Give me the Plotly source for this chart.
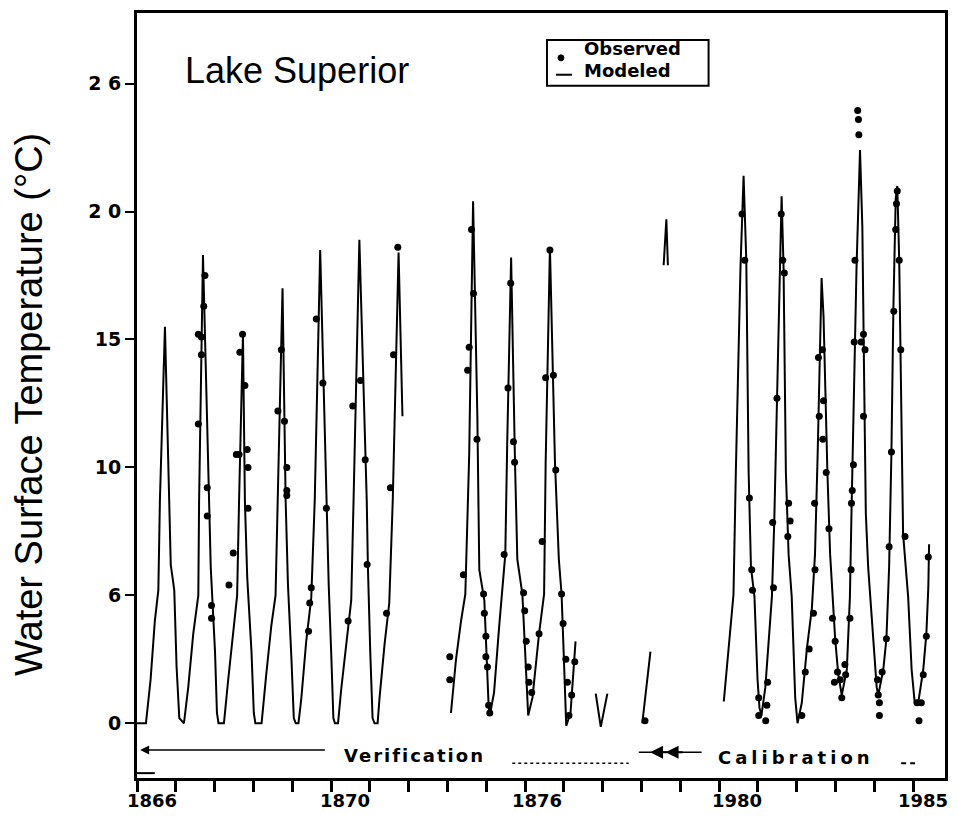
import plotly.graph_objects as go

# ---------------- data ----------------
# Modeled water surface temperature (decimal year, deg C); None = gap in the record
model_year = [
    1966.00, 1966.23, 1966.35, 1966.46, 1966.55, 1966.59, 1966.72, 1966.83, 1966.87, 1966.96, 1967.02, 1967.09, 1967.21,
    1967.32, 1967.45, 1967.58, 1967.60, 1967.70, 1967.86, 1967.90, 1968.01, 1968.06, 1968.10, 1968.24,
    1968.35, 1968.48, 1968.58, 1968.63, 1968.73, 1968.78, 1968.84, 1968.95, 1969.01, 1969.05, 1969.21,
    1969.33, 1969.46, 1969.57, 1969.62, 1969.75, 1969.83, 1969.89, 1969.98, 1970.04, 1970.09, 1970.16,
    1970.23, 1970.36, 1970.49, 1970.58, 1970.72, 1970.88, 1970.94, 1971.01, 1971.06, 1971.10, 1971.18,
    1971.26, 1971.39, 1971.52, 1971.58, 1971.73, 1971.92, 1971.95, 1972.01, 1972.07, 1972.12, 1972.20,
    1972.25, 1972.38, 1972.50, 1972.59, 1972.74, 1972.84, None,
    1974.09, 1974.22, 1974.35, 1974.46, 1974.56, 1974.66, 1974.77, 1974.82, 1974.95, 1975.01, 1975.06, 1975.09,
    1975.20, 1975.33, 1975.49, 1975.54, 1975.64, 1975.74, 1975.80, 1975.93, 1976.02, 1976.08,
    1976.19, 1976.36, 1976.49, 1976.53, 1976.64, 1976.77, 1976.87, 1976.94, 1977.00, 1977.06,
    1977.17, 1977.30, None,
    1977.82, 1977.95, 1978.12, None,
    1979.02, 1979.23, None,
    1979.57, 1979.64, 1979.68, None,
    1981.12, 1981.24, 1981.37, 1981.43, 1981.48, 1981.55, 1981.63, 1981.70, 1981.76, 1981.82, 1981.91, 1981.99, 1982.04, 1982.09,
    1982.19, 1982.27, 1982.36, 1982.42, 1982.49, 1982.56, 1982.61, 1982.66, 1982.72, 1982.79, 1982.87, 1982.96, 1983.02,
    1983.13, 1983.26, 1983.39, 1983.47, 1983.54, 1983.60, 1983.64, 1983.69, 1983.73, 1983.79, 1983.86, 1983.92, 1983.99, 1984.07, 1984.16,
    1984.29, 1984.37, 1984.41, 1984.48, 1984.54, 1984.63, 1984.69, 1984.74, 1984.78, 1984.84, 1984.97, 1985.06, 1985.10,
    1985.23, 1985.31, 1985.38, 1985.44, 1985.49, 1985.55, 1985.59, 1985.64, 1985.68, 1985.74, 1985.87, 1985.96, 1986.04,
    1986.13, 1986.26, 1986.34, 1986.39, 1986.41,
]
model_temp = [
    0, 0, 1.7, 4.0, 5.2, 8.7, 15.5, 8.7, 6.2, 5.2, 2.2, 0.2, 0,
    1.4, 3.5, 5.0, 8.7, 18.3, 8.7, 6.1, 2.8, 0.4, 0, 0,
    1.7, 3.5, 5.0, 8.7, 15.2, 8.7, 5.7, 2.8, 0.4, 0, 0,
    1.9, 3.8, 5.0, 8.7, 17.0, 8.7, 5.4, 2.5, 0.2, 0, 0,
    0.9, 3.2, 4.9, 8.7, 18.5, 8.7, 5.4, 2.5, 0.2, 0, 0,
    1.3, 3.1, 4.8, 8.7, 18.9, 8.7, 6.1, 2.8, 0.2, 0, 0,
    1.0, 3.1, 4.7, 8.7, 18.4, 12.0, None,
    0.4, 2.5, 4.0, 5.05, 10.5, 20.4, 12.0, 6.0, 4.8, 2.5, 0.7, 0.3,
    1.2, 3.75, 6.6, 11.0, 18.2, 10.2, 6.4, 5.05, 2.5, 0.3,
    1.0, 3.5, 5.05, 10.2, 18.6, 10.2, 6.4, 5.05, 2.5, -0.1,
    0.4, 3.2, None,
    1.16, -0.14, 1.16, None,
    0.0, 2.8, None,
    17.9, 19.7, 17.9, None,
    0.85, 2.86, 5.03, 9.78, 13.0, 17.8, 21.4, 18.1, 9.8, 6.1, 4.95, 1.7, 0.6, 0.3,
    1.4, 2.9, 4.95, 7.85, 13.0, 17.8, 20.6, 17.8, 9.8, 6.6, 4.95, 1.0, 0.0,
    0.8, 2.9, 4.5, 6.6, 10.6, 14.6, 17.4, 15.9, 13.0, 9.8, 6.6, 4.95, 3.3, 1.9, 1.1,
    2.1, 4.95, 8.2, 13.0, 17.8, 22.4, 19.4, 13.0, 8.2, 6.1, 3.3, 1.4, 1.1,
    2.1, 3.3, 6.1, 10.6, 16.2, 20.5, 21.0, 18.1, 13.0, 7.4, 4.95, 2.1, 0.8,
    0.8, 2.1, 3.5, 5.3, 7.0,
]

# Observed water surface temperature (decimal year, deg C)
obs_year = [
    1967.58, 1967.66, 1967.66, 1967.58, 1967.75, 1967.72, 1967.81, 1967.81, 1967.92, 1967.92,
    1968.72, 1968.65, 1968.78, 1968.56, 1968.63, 1968.84, 1968.86, 1968.86, 1968.48, 1968.37,
    1969.72, 1969.63, 1969.80, 1969.86, 1969.86, 1969.86,
    1970.42, 1970.45, 1970.49, 1970.62, 1970.79, 1970.88,
    1971.44, 1971.56, 1971.76, 1971.88, 1971.93,
    1972.43, 1972.53, 1972.61, 1972.72,
    1974.06, 1974.06, 1974.41, 1974.52, 1974.56, 1974.62, 1974.67, 1974.76, 1974.93, 1974.95,
    1974.99, 1974.99, 1975.03, 1975.06, 1975.09,
    1975.46, 1975.56, 1975.63, 1975.70, 1975.73, 1975.96, 1975.99, 1976.03, 1976.08, 1976.10, 1976.17,
    1976.36, 1976.44, 1976.53, 1976.64, 1976.73, 1976.79, 1976.94, 1976.98, 1977.05, 1977.09, 1977.13,
    1977.20, 1977.28,
    1979.09,
    1981.59, 1981.66, 1981.78, 1981.84, 1981.86, 1982.02, 1982.02, 1982.20, 1982.23, 1982.25,
    1982.38, 1982.40, 1982.49, 1982.60, 1982.64, 1982.68, 1982.77, 1982.79, 1982.83,
    1983.13, 1983.22, 1983.32, 1983.43, 1983.47, 1983.46,
    1983.56, 1983.58, 1983.66, 1983.69, 1983.67, 1983.76, 1983.83, 1983.92, 1983.99, 1983.97,
    1984.05, 1984.12, 1984.16, 1984.24, 1984.26,
    1984.37, 1984.40, 1984.41, 1984.43, 1984.46, 1984.48, 1984.50, 1984.57, 1984.59, 1984.60,
    1984.66, 1984.72, 1984.72, 1984.76, 1985.08, 1985.10, 1985.13, 1985.13,
    1985.20, 1985.31, 1985.38, 1985.44, 1985.50, 1985.55, 1985.57, 1985.59, 1985.64, 1985.68, 1985.79,
    1986.10, 1986.15, 1986.21, 1986.26, 1986.34, 1986.39,
]
obs_temp = [
    15.2, 15.1, 14.4, 11.7, 17.5, 16.3, 9.2, 8.1, 4.6, 4.1,
    15.2, 14.5, 13.2, 10.5, 10.5, 10.7, 10.0, 8.4, 6.65, 5.4,
    14.6, 12.2, 11.8, 10.0, 9.1, 8.9,
    3.6, 4.7, 5.3, 15.8, 13.3, 8.4,
    4.0, 12.4, 13.4, 10.3, 6.2,
    4.3, 9.2, 14.4, 18.6,
    2.6, 1.7, 5.8, 13.8, 14.7, 19.3, 16.8, 11.1, 5.05, 4.3,
    3.4, 2.6, 2.2, 0.7, 0.4,
    6.6, 13.1, 17.2, 11.0, 10.2, 5.1, 4.4, 3.2, 2.2, 1.6, 1.2,
    3.5, 7.1, 13.5, 18.5, 13.6, 9.9, 5.05, 3.9, 2.5, 1.6, 0.3,
    1.1, 2.4,
    0.1,
    19.9, 18.1, 8.8, 6.0, 5.2, 1.0, 0.3, 0.1, 0.7, 1.6,
    7.85, 5.3, 12.7, 19.9, 18.1, 17.6, 7.3, 8.6, 7.9,
    0.3, 2.0, 2.9, 4.3, 6.0, 8.6,
    14.3, 12.0, 14.6, 12.6, 11.1, 9.8, 7.6, 4.1, 3.2, 1.6,
    2.0, 1.7, 1.0, 2.3, 1.9,
    4.1, 6.0, 8.6, 9.1, 10.1, 14.9, 18.1, 23.95, 23.6, 23.0,
    14.9, 15.2, 12.0, 14.6, 1.7, 1.1, 0.8, 0.3,
    2.0, 3.3, 6.9, 10.6, 16.1, 19.3, 20.3, 20.8, 18.1, 14.6, 7.3,
    0.8, 0.1, 0.8, 1.9, 3.4, 6.5,
]

# axis ticks / labels as printed on the figure
year_ticks = list(range(1966, 1987))
y_tickvals = [0, 5, 10, 15, 20, 25]
y_ticktext = ["0", "6", "10", "15", "2 0", "2 6"]
x_labelvals = [1966.39, 1971.37, 1976.31, 1981.45, 1986.26]
x_labeltext = ["1866", "1870", "1876", "1980", "1985"]
legend_labels = ["Observed", "Modeled"]

X_RANGE = [1966.0, 1986.82]
BOLD = dict(family="DejaVu Sans", color="black", weight="bold")

fig = go.Figure()
fig.add_trace(go.Scatter(
    x=model_year, y=model_temp, mode="lines", name=legend_labels[1],
    line=dict(color="black", width=2), connectgaps=False,
))
fig.add_trace(go.Scatter(
    x=obs_year, y=obs_temp, mode="markers", name=legend_labels[0],
    marker=dict(color="black", size=7),
))

fig.update_layout(
    width=958, height=822,
    margin=dict(l=137, r=11, t=10, b=44),
    plot_bgcolor="white", paper_bgcolor="white",
    showlegend=False,
    xaxis=dict(
        range=X_RANGE, tickmode="array", tickvals=year_ticks,
        showticklabels=False, ticks="outside", ticklen=11, tickwidth=2.5, tickcolor="black",
        showline=True, linewidth=3, linecolor="black", mirror=True,
        showgrid=False, zeroline=False,
    ),
    yaxis=dict(
        range=[-2.14, 27.76], tickmode="array",
        tickvals=y_tickvals, ticktext=y_ticktext,
        ticks="outside", ticklen=9, tickwidth=2, tickcolor="black",
        showline=True, linewidth=3, linecolor="black", mirror=True,
        showgrid=False, zeroline=False,
        tickfont=dict(size=19, **BOLD),
    ),
)

# x labels as printed (placed under the year ticks)
for xv, xt in zip(x_labelvals, x_labeltext):
    fig.add_annotation(text=xt, xref="x", yref="paper", x=xv, y=-0.030,
                       xanchor="center", yanchor="middle", showarrow=False,
                       font=dict(size=18, **BOLD))

# axis title
fig.add_annotation(
    text="Water Surface Temperature (°C)", xref="paper", yref="paper",
    x=-0.1346, y=0.488, textangle=-90, showarrow=False,
    xanchor="center", yanchor="middle",
    font=dict(family="Liberation Sans", size=38, color="black"),
)
# panel title
fig.add_annotation(
    text="Lake Superior", xref="x", yref="y", x=1967.18, y=25.5,
    xanchor="left", yanchor="middle", showarrow=False,
    font=dict(family="Liberation Sans", size=36, color="black"),
)

# legend box (drawn by hand to match the printed key)
fig.add_shape(type="rect", xref="paper", yref="paper", x0=0.5074, x1=0.7074, y0=0.905, y1=0.9648,
              line=dict(color="black", width=2), fillcolor="white", layer="below")
fig.add_shape(type="circle", xref="paper", yref="paper", x0=0.5210, x1=0.5284, y0=0.9375, y1=0.9453,
              line=dict(color="black", width=1), fillcolor="black")
fig.add_shape(type="line", xref="paper", yref="paper", x0=0.5185, x1=0.5383, y0=0.9193, y1=0.9193,
              line=dict(color="black", width=2))
fig.add_annotation(text=legend_labels[0], xref="paper", yref="paper", x=0.5506, y=0.9530,
                   xanchor="left", yanchor="middle", showarrow=False, font=dict(size=18, **BOLD))
fig.add_annotation(text=legend_labels[1], xref="paper", yref="paper", x=0.5506, y=0.9245,
                   xanchor="left", yanchor="middle", showarrow=False, font=dict(size=18, **BOLD))

# period labels
fig.add_annotation(
    text='<span style="letter-spacing:2px">Verification</span>', xref="x", yref="y",
    x=1971.27, y=-1.27, xanchor="left", yanchor="middle", showarrow=False,
    font=dict(size=18, **BOLD),
)
fig.add_annotation(
    text='<span style="letter-spacing:4px">Calibration</span>', xref="x", yref="y",
    x=1980.91, y=-1.34, xanchor="left", yanchor="middle", showarrow=False,
    font=dict(size=18, **BOLD),
)
# verification arrow (pointing left to the start of the record)
fig.add_annotation(
    x=1966.08, y=-1.05, ax=1970.88, ay=-1.05, xref="x", yref="y", axref="x", ayref="y",
    text="", showarrow=True, arrowhead=2, arrowsize=1.2, arrowwidth=1.5, arrowcolor="black",
)
# calibration arrow
fig.add_shape(type="line", xref="x", yref="y", x0=1978.93, x1=1980.55, y0=-1.13, y1=-1.13,
              line=dict(color="black", width=1.5))
fig.add_annotation(
    x=1979.22, y=-1.13, ax=1979.70, ay=-1.13, xref="x", yref="y", axref="x", ayref="y",
    text="", showarrow=True, arrowhead=2, arrowsize=1.3, arrowwidth=2, arrowcolor="black",
)
fig.add_annotation(
    x=1979.62, y=-1.13, ax=1980.10, ay=-1.13, xref="x", yref="y", axref="x", ayref="y",
    text="", showarrow=True, arrowhead=2, arrowsize=1.3, arrowwidth=2, arrowcolor="black",
)
# dotted remainder of the verification bar and small dashes
fig.add_shape(type="line", xref="x", yref="y", x0=1975.67, x1=1978.67, y0=-1.56, y1=-1.56,
              line=dict(color="black", width=1.5, dash="dot"))
fig.add_shape(type="line", xref="x", yref="y", x0=1985.69, x1=1986.05, y0=-1.56, y1=-1.56,
              line=dict(color="black", width=2, dash="5px,4px"))
fig.add_shape(type="line", xref="x", yref="y", x0=1966.0, x1=1966.46, y0=-1.95, y1=-1.95,
              line=dict(color="black", width=2))

fig.write_html("out.html")
